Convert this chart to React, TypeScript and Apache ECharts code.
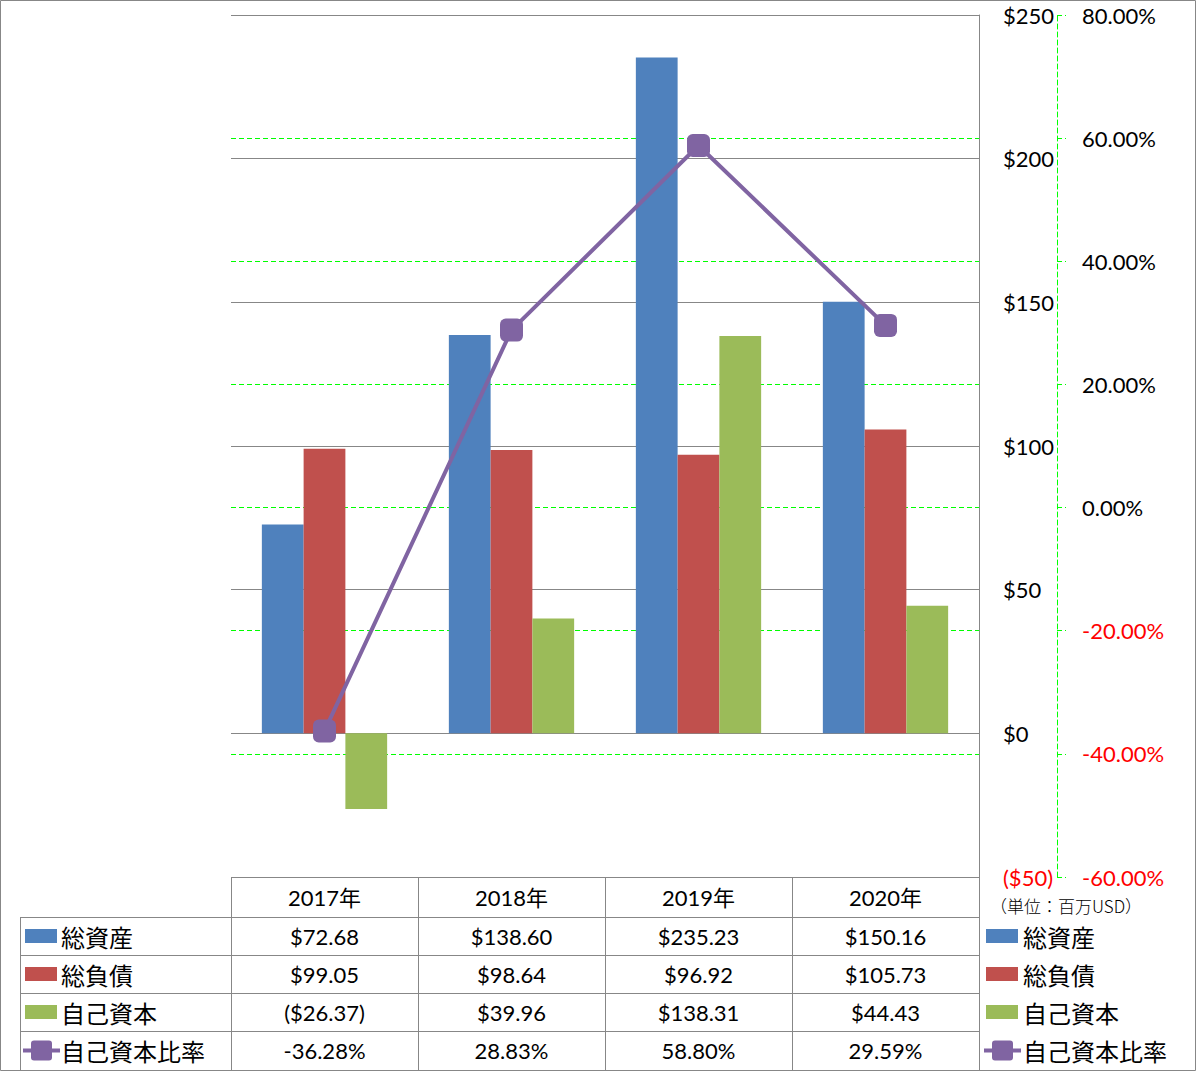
import React, { useEffect, useRef } from "react";
import * as echarts from "echarts";

const categories = ["2017年", "2018年", "2019年", "2020年"];
const seriesNames = ["総資産", "総負債", "自己資本", "自己資本比率"];
const totalAssets = [72.68, 138.6, 235.23, 150.16];
const totalLiabilities = [99.05, 98.64, 96.92, 105.73];
const equity = [-26.37, 39.96, 138.31, 44.43];
const equityRatio = [-36.28, 28.83, 58.8, 29.59];
const usdAxis = { min: -50, max: 250, interval: 50 };
const pctAxis = { min: -60, max: 80, interval: 20 };
const unitNote = "（単位：百万USD）";

const COLORS = ["#4F81BD", "#C0504D", "#9BBB59", "#8064A2"];
const GRAY = "#878787";
const GREEN = "#00ff00";
const NUM_FONT = "Lato, 'Noto Sans CJK JP', sans-serif";
const JP_FONT = "'Noto Sans CJK JP', sans-serif";

const W = 1196;
const H = 1071;
const GL = 231;
const GR = 979;
const GT = 15;
const GB = 877;
const ROW_TOPS = [877, 917, 955, 993, 1031, 1070];

const fmtUsd = (v: number, d = 2) =>
  v < 0 ? `($${Math.abs(v).toFixed(d)})` : `$${v.toFixed(d)}`;
const fmtPct = (v: number) => `${v.toFixed(2)}%`;

export default function App() {
  const ref = useRef<HTMLDivElement>(null);
  useEffect(() => {
    if (!ref.current) return;
    const chart = echarts.init(ref.current, null, { renderer: "svg" });
    const colW = (GR - GL) / categories.length;
    const graphic: any[] = [];
    const line = (x1: number, y1: number, x2: number, y2: number, z = 100) =>
      graphic.push({
        type: "line",
        z,
        shape: { x1, y1, x2, y2 },
        style: { stroke: GRAY, lineWidth: 1 },
      });
    graphic.push({
      type: "rect",
      z: 100,
      shape: { x: 0.5, y: 0.5, width: W - 1, height: H - 1 },
      style: { fill: "none", stroke: GRAY, lineWidth: 1 },
    });
    line(GL, GT + 0.5, GR, GT + 0.5);
    line(GL, GB + 0.5, GR, GB + 0.5);
    for (let i = 1; i < 5; i++) line(20, ROW_TOPS[i] + 0.5, GR, ROW_TOPS[i] + 0.5);
    line(20.5, ROW_TOPS[1], 20.5, H);
    for (let c = 0; c <= categories.length; c++) {
      const x = Math.round(GL + c * colW) + 0.5;
      line(x, GB, x, H);
    }
    const rowMid = (r: number) => (ROW_TOPS[r] + ROW_TOPS[r + 1]) / 2;
    const text = (t: string, x: number, y: number, opts: any = {}) =>
      graphic.push({
        type: "text",
        z: 110,
        x,
        y,
        style: {
          text: t,
          fill: opts.fill || "#000",
          fontSize: opts.fontSize || 22,
          fontFamily: opts.fontFamily || NUM_FONT,
          fontWeight: opts.fontWeight || "normal",
          align: opts.align || "center",
          verticalAlign: "middle",
        },
      });
    categories.forEach((c, i) => text(c, GL + colW * (i + 0.5), rowMid(0)));
    const rows = [
      totalAssets.map((v) => fmtUsd(v)),
      totalLiabilities.map((v) => fmtUsd(v)),
      equity.map((v) => fmtUsd(v)),
      equityRatio.map(fmtPct),
    ];
    rows.forEach((vals, r) =>
      vals.forEach((v, i) => text(v, GL + colW * (i + 0.5), rowMid(r + 1)))
    );
    const key = (r: number, x0: number, tx: number) => {
      const y = rowMid(r + 1);
      if (r < 3) {
        graphic.push({
          type: "rect",
          z: 110,
          shape: { x: x0 + 2, y: y - 7, width: 32, height: 14 },
          style: { fill: COLORS[r] },
        });
      } else {
        graphic.push({
          type: "line",
          z: 110,
          shape: { x1: x0, y1: y, x2: x0 + 37, y2: y },
          style: { stroke: COLORS[3], lineWidth: 4 },
        });
        graphic.push({
          type: "rect",
          z: 111,
          shape: { x: x0 + 8, y: y - 10, width: 21, height: 20, r: 3 },
          style: { fill: COLORS[3] },
        });
      }
      text(seriesNames[r], tx, y, {
        align: "left",
        fontFamily: JP_FONT,
        fontSize: 24,
      });
    };
    for (let r = 0; r < 4; r++) {
      key(r, 23, 61);
      key(r, 984, 1023);
    }
    text(unitNote, 990, 905, {
      align: "left",
      fontFamily: JP_FONT,
      fontSize: 17,
      fontWeight: 300,
    });

    chart.setOption({
      animation: false,
      backgroundColor: "#fff",
      grid: { left: GL, right: W - GR, top: GT, bottom: H - GB },
      xAxis: {
        type: "category",
        data: categories,
        show: false,
      },
      yAxis: [
        {
          type: "value",
          position: "right",
          min: usdAxis.min,
          max: usdAxis.max,
          interval: usdAxis.interval,
          axisLine: { show: true, lineStyle: { color: GRAY, width: 1 } },
          axisTick: { show: false },
          axisLabel: {
            margin: 24,
            fontSize: 22,
            fontFamily: NUM_FONT,
            formatter: (v: number) => fmtUsd(v, 0),
            color: (v: any) => (Number(v) < 0 ? "#ff0000" : "#000"),
          },
          splitLine: { show: true, lineStyle: { color: GRAY, width: 1 } },
        },
        {
          type: "value",
          position: "right",
          offset: 78,
          min: pctAxis.min,
          max: pctAxis.max,
          interval: pctAxis.interval,
          axisLine: {
            show: true,
            lineStyle: { color: GREEN, width: 1, type: [5, 3] },
          },
          axisTick: {
            show: true,
            length: 9,
            lineStyle: { color: GREEN, width: 1, type: [5, 3] },
          },
          axisLabel: {
            margin: 25,
            fontSize: 22,
            fontFamily: NUM_FONT,
            formatter: (v: number) => fmtPct(v),
            color: (v: any) => (Number(v) < 0 ? "#ff0000" : "#000"),
          },
          splitLine: {
            show: true,
            lineStyle: { color: GREEN, width: 1, type: [5, 3] },
          },
        },
      ],
      series: [
        {
          name: seriesNames[0],
          type: "bar",
          data: totalAssets,
          itemStyle: { color: COLORS[0] },
          barGap: "0%",
          barCategoryGap: "33%",
        },
        {
          name: seriesNames[1],
          type: "bar",
          data: totalLiabilities,
          itemStyle: { color: COLORS[1] },
          barGap: "0%",
          barCategoryGap: "33%",
        },
        {
          name: seriesNames[2],
          type: "bar",
          data: equity,
          itemStyle: { color: COLORS[2] },
          barGap: "0%",
          barCategoryGap: "33%",
        },
        {
          name: seriesNames[3],
          type: "line",
          yAxisIndex: 1,
          data: equityRatio,
          symbol: "roundRect",
          symbolSize: 23,
          itemStyle: { color: COLORS[3] },
          lineStyle: { color: COLORS[3], width: 4 },
          z: 5,
        },
      ],
      graphic,
    });
    return () => chart.dispose();
  }, []);
  return (
    <div
      ref={ref}
      style={{ position: "fixed", left: 0, top: 0, width: W, height: H, background: "#fff" }}
    />
  );
}
